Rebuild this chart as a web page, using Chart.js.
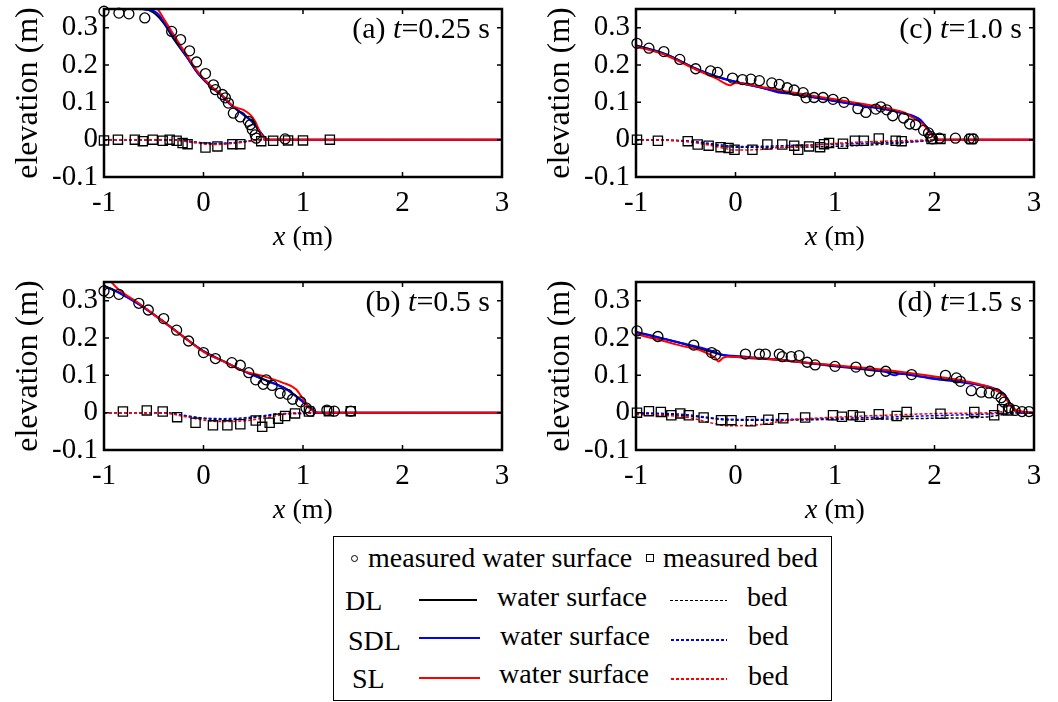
<!DOCTYPE html>
<html>
<head>
<meta charset="utf-8">
<script src="https://cdn.jsdelivr.net/npm/chart.js@4"></script>
<style>
  body { margin: 0; background: #fff; }
  #page { position: relative; width: 1058px; height: 702px; overflow: hidden; color: #000; }
  canvas { position: absolute; }
  .lg { position: absolute; font-family: 'Liberation Serif', serif; font-size: 28px; line-height: 28px; white-space: nowrap; }
  .ln { position: absolute; height: 2px; }
  .dl { position: absolute; height: 1.5px; }
  #legendBox { position: absolute; left: 333px; top: 536px; width: 499px; height: 165px; border: 1.5px solid #000; box-sizing: border-box; }
</style>
</head>
<body>
<div id="page">
  <canvas id="panelA" width="528" height="255" style="left:0;top:0"></canvas>
  <canvas id="panelC" width="528" height="255" style="left:532px;top:0"></canvas>
  <canvas id="panelB" width="528" height="255" style="left:0;top:273px"></canvas>
  <canvas id="panelD" width="528" height="255" style="left:532px;top:273px"></canvas>

  <div id="legendBox"></div>
  <div style="position:absolute;left:350.5px;top:554.5px;width:7px;height:7px;border:1.3px solid #000;border-radius:50%;box-sizing:border-box"></div>
  <div class="lg" style="left:368px;top:544px">measured water surface</div>
  <div style="position:absolute;left:646px;top:554px;width:8px;height:8px;border:1.3px solid #000;box-sizing:border-box"></div>
  <div class="lg" style="left:663px;top:544px">measured bed</div>

  <div class="lg" style="left:345px;top:587px">DL</div>
  <div class="ln" style="left:419px;top:599px;width:58px;background:#000"></div>
  <div class="lg" style="left:497px;top:583px">water surface</div>
  <div class="dl" style="left:670px;top:599.5px;width:57px;background:repeating-linear-gradient(to right,#000 0 3px,transparent 3px 5px)"></div>
  <div class="lg" style="left:747px;top:583px">bed</div>

  <div class="lg" style="left:348px;top:627px">SDL</div>
  <div class="ln" style="left:419px;top:637px;width:61px;background:#0000ff"></div>
  <div class="lg" style="left:500px;top:622px">water surface</div>
  <div class="dl" style="left:671px;top:639px;width:56px;background:repeating-linear-gradient(to right,#0000ff 0 3px,transparent 3px 5px)"></div>
  <div class="lg" style="left:748px;top:622px">bed</div>

  <div class="lg" style="left:352px;top:665px">SL</div>
  <div class="ln" style="left:419px;top:677px;width:61px;background:#ff0000"></div>
  <div class="lg" style="left:499px;top:660px">water surface</div>
  <div class="dl" style="left:671px;top:678px;width:56px;background:repeating-linear-gradient(to right,#ff0000 0 3px,transparent 3px 5px)"></div>
  <div class="lg" style="left:748px;top:662px">bed</div>
</div>

<script>
// ticks
const X_TICKS = [-1, 0, 1, 2, 3];
const Y_TICKS = [-0.1, 0, 0.1, 0.2, 0.3];

// (a) t = 0.25 s
const surfObsA = [[-1.0,0.344],[-0.85,0.339],[-0.75,0.337],[-0.59,0.326],[-0.32,0.290],[-0.23,0.268],[-0.14,0.238],[-0.07,0.208],[0.02,0.177],[0.10,0.147],[0.12,0.134],[0.19,0.121],[0.22,0.112],[0.25,0.098],[0.30,0.071],[0.37,0.061],[0.45,0.049],[0.47,0.040],[0.49,0.027],[0.52,0.013],[0.53,0.004],[0.82,0.002]];
const bedObsA = [[-1.0,-0.002],[-0.86,0],[-0.69,0],[-0.61,-0.004],[-0.51,0],[-0.41,-0.003],[-0.34,0],[-0.27,-0.003],[-0.21,-0.009],[-0.16,-0.012],[0.02,-0.021],[0.14,-0.018],[0.29,-0.012],[0.37,-0.012],[0.58,-0.004],[0.70,-0.003],[0.85,-0.002],[1.0,-0.002],[1.27,0]];
const surfDL_A = [[-1,0.353],[-0.6,0.35],[-0.5,0.34],[-0.4,0.312],[-0.3,0.27],[-0.16,0.218],[-0.06,0.179],[0.07,0.143],[0.19,0.117],[0.27,0.095],[0.4,0.068],[0.5,0.046],[0.565,0.022],[0.63,0.002],[0.66,0],[3,0]];
const surfSDL_A = [[-1,0.352],[-0.7,0.351],[-0.57,0.348],[-0.47,0.34],[-0.39,0.313],[-0.29,0.272],[-0.16,0.219],[-0.06,0.179],[0.07,0.143],[0.19,0.116],[0.27,0.094],[0.40,0.067],[0.50,0.045],[0.565,0.022],[0.63,0.002],[0.66,0],[3,0]];
const surfSL_A = [[-1,0.45],[-0.6,0.40],[-0.46,0.35],[-0.39,0.32],[-0.29,0.277],[-0.16,0.223],[-0.06,0.183],[0.07,0.145],[0.20,0.116],[0.30,0.089],[0.40,0.080],[0.47,0.067],[0.52,0.049],[0.565,0.022],[0.615,0.002],[0.65,0],[3,0]];
const bedDL_A = [[-1,0],[-0.3,0],[-0.1,-0.006],[0.1,-0.011],[0.3,-0.009],[0.5,-0.002],[0.6,0],[3,0]];
const bedSDL_A = [[-1,0],[-0.3,0],[-0.1,-0.006],[0.1,-0.010],[0.3,-0.008],[0.5,-0.002],[0.6,0],[3,0]];
const bedSL_A = [[-1,0],[-0.3,-0.001],[-0.1,-0.008],[0.1,-0.013],[0.3,-0.010],[0.5,-0.003],[0.6,0],[3,0]];

// (b) t = 0.5 s
const surfObsB = [[-1.0,0.326],[-0.95,0.321],[-0.85,0.317],[-0.65,0.293],[-0.555,0.275],[-0.40,0.252],[-0.27,0.221],[-0.15,0.192],[0.0,0.161],[0.12,0.145],[0.285,0.134],[0.37,0.127],[0.455,0.107],[0.525,0.088],[0.60,0.076],[0.63,0.088],[0.69,0.073],[0.77,0.052],[0.845,0.049],[0.895,0.036],[0.977,0.029],[1.03,0.013],[1.075,0.004],[1.24,0.007],[1.315,0.004],[1.48,0.004]];
const bedObsB = [[-0.81,0.003],[-0.57,0.006],[-0.41,0.003],[-0.265,-0.012],[-0.08,-0.027],[0.095,-0.034],[0.24,-0.034],[0.37,-0.031],[0.525,-0.021],[0.59,-0.038],[0.665,-0.027],[0.75,-0.016],[0.82,-0.009],[0.92,-0.002],[1.06,0.003],[1.26,0.004],[1.48,0.004]];
const surfDL_B = [[-1,0.340],[-0.85,0.322],[-0.65,0.291],[-0.39,0.242],[-0.19,0.201],[0.0,0.165],[0.2,0.138],[0.4,0.112],[0.6,0.090],[0.83,0.064],[0.99,0.032],[1.09,0.009],[1.14,0],[3,0]];
const surfSDL_B = [[-1,0.339],[-0.85,0.321],[-0.65,0.29],[-0.39,0.241],[-0.19,0.201],[0.0,0.165],[0.2,0.138],[0.4,0.112],[0.6,0.089],[0.83,0.063],[0.99,0.031],[1.09,0.009],[1.14,0],[3,0]];
const surfSL_B = [[-1,0.38],[-0.92,0.348],[-0.85,0.329],[-0.65,0.293],[-0.39,0.241],[-0.19,0.201],[0.0,0.163],[0.2,0.1375],[0.4,0.112],[0.6,0.098],[0.8,0.080],[0.93,0.063],[0.98,0.045],[1.06,0.013],[1.125,0.002],[1.19,0],[3,0]];
const bedDL_B = [[-1,0],[-0.4,0],[-0.2,-0.008],[0,-0.016],[0.2,-0.019],[0.4,-0.017],[0.6,-0.010],[0.8,-0.003],[1.0,-0.002],[1.1,0],[3,0]];
const bedSDL_B = [[-1,0],[-0.4,0],[-0.2,-0.007],[0,-0.014],[0.2,-0.016],[0.4,-0.014],[0.6,-0.008],[0.8,-0.002],[1.0,-0.002],[1.1,0],[3,0]];
const bedSL_B = [[-1,0],[-0.4,-0.001],[-0.2,-0.010],[0,-0.020],[0.2,-0.024],[0.4,-0.022],[0.6,-0.015],[0.8,-0.005],[0.95,0],[3,0]];

// (c) t = 1.0 s
const surfObsC = [[-0.99,0.258],[-0.87,0.245],[-0.72,0.236],[-0.56,0.215],[-0.40,0.190],[-0.25,0.184],[-0.18,0.180],[-0.03,0.165],[0.07,0.161],[0.155,0.162],[0.24,0.158],[0.365,0.152],[0.44,0.148],[0.52,0.139],[0.59,0.133],[0.68,0.126],[0.71,0.112],[0.79,0.113],[0.88,0.113],[0.98,0.108],[1.09,0.100],[1.23,0.083],[1.31,0.073],[1.41,0.082],[1.46,0.088],[1.52,0.080],[1.58,0.064],[1.69,0.058],[1.75,0.042],[1.81,0.040],[1.89,0.025],[1.94,0.018],[1.96,0.009],[1.98,0.002],[2.05,0.004],[2.21,0.004],[2.35,0.002],[2.39,0.002]];
const bedObsC = [[-0.99,0],[-0.78,-0.003],[-0.48,-0.004],[-0.38,-0.013],[-0.27,-0.016],[-0.15,-0.020],[-0.07,-0.022],[-0.01,-0.027],[0.17,-0.027],[0.32,-0.013],[0.47,-0.013],[0.59,-0.016],[0.63,-0.027],[0.74,-0.018],[0.85,-0.020],[0.89,-0.012],[0.94,-0.009],[1.08,-0.011],[1.20,-0.003],[1.29,-0.003],[1.44,0.003],[1.61,-0.003],[1.67,-0.004],[1.97,0.002],[2.06,0.002],[2.37,0.002]];
const surfDL_C = [[-1,0.253],[-0.7,0.229],[-0.4,0.191],[-0.2,0.170],[0,0.155],[0.25,0.140],[0.5,0.125],[0.8,0.113],[1.0,0.104],[1.3,0.090],[1.5,0.082],[1.69,0.070],[1.8,0.061],[1.86,0.052],[1.94,0.026],[1.99,0.008],[2.02,0],[3,0]];
const surfSDL_C = [[-1,0.252],[-0.7,0.228],[-0.4,0.19],[-0.2,0.17],[0,0.155],[0.25,0.14],[0.5,0.124],[0.55,0.126],[0.8,0.113],[1.0,0.103],[1.3,0.09],[1.5,0.082],[1.69,0.071],[1.8,0.062],[1.86,0.053],[1.94,0.027],[1.99,0.009],[2.02,0],[3,0]];
const surfSL_C = [[-1,0.25],[-0.7,0.226],[-0.4,0.188],[-0.2,0.165],[-0.05,0.146],[0.0,0.152],[0.25,0.142],[0.5,0.13],[1.0,0.108],[1.3,0.095],[1.53,0.084],[1.7,0.072],[1.76,0.062],[1.89,0.04],[1.97,0.013],[2.02,0.002],[2.06,0],[3,0]];
const bedDL_C = [[-1,0],[-0.5,-0.004],[0,-0.020],[0.5,-0.020],[1.0,-0.018],[1.5,-0.012],[1.9,-0.003],[2.0,0],[3,0]];
const bedSDL_C = [[-1,0],[-0.5,-0.003],[-0.2,-0.012],[0,-0.018],[0.2,-0.018],[0.6,-0.015],[1.0,-0.012],[1.5,-0.008],[1.9,-0.003],[2.0,0],[3,0]];
const bedSL_C = [[-1,0],[-0.5,-0.005],[-0.2,-0.018],[0,-0.028],[0.2,-0.027],[0.5,-0.020],[1.0,-0.010],[1.5,-0.004],[1.8,-0.002],[2.0,0],[3,0]];

// (d) t = 1.5 s
const surfObsD = [[-0.99,0.219],[-0.78,0.204],[-0.42,0.181],[-0.24,0.161],[-0.20,0.155],[0.10,0.157],[0.24,0.157],[0.30,0.157],[0.44,0.157],[0.47,0.150],[0.56,0.150],[0.64,0.153],[0.72,0.135],[0.80,0.128],[1.0,0.124],[1.21,0.122],[1.35,0.111],[1.51,0.111],[1.77,0.102],[2.11,0.100],[2.22,0.093],[2.26,0.084],[2.37,0.059],[2.47,0.055],[2.55,0.053],[2.62,0.051],[2.67,0.040],[2.70,0.028],[2.75,0.013],[2.81,0.006],[2.88,0.003],[2.95,0.003]];
const bedObsD = [[-0.99,0],[-0.87,0.004],[-0.75,0.002],[-0.645,-0.007],[-0.555,-0.002],[-0.47,-0.007],[-0.32,-0.013],[-0.145,-0.020],[-0.04,-0.020],[0.155,-0.023],[0.33,-0.019],[0.48,-0.015],[0.70,-0.013],[0.98,-0.007],[1.07,-0.011],[1.18,-0.007],[1.25,-0.011],[1.44,-0.004],[1.62,-0.009],[1.72,0.002],[2.06,-0.003],[2.40,0.002],[2.60,-0.007],[2.68,0.009],[2.74,0.006]];
const surfDL_D = [[-1,0.217],[-0.6,0.19],[-0.2,0.16],[-0.1,0.153],[0.5,0.14],[1.0,0.124],[1.5,0.11],[2.0,0.092],[2.3,0.082],[2.6,0.062],[2.7,0.048],[2.75,0.028],[2.8,0.008],[2.9,0],[3,0]];
const surfSDL_D = [[-1,0.215],[-0.6,0.19],[-0.2,0.162],[-0.15,0.155],[0,0.152],[0.5,0.14],[1.0,0.125],[1.5,0.11],[1.6,0.10],[1.65,0.104],[2.0,0.09],[2.3,0.08],[2.6,0.065],[2.7,0.05],[2.75,0.03],[2.8,0.008],[2.85,0.002],[2.9,0],[3,0]];
const surfSL_D = [[-1,0.21],[-0.6,0.183],[-0.2,0.146],[-0.17,0.137],[-0.13,0.146],[-0.08,0.150],[0.5,0.14],[1.0,0.127],[1.5,0.115],[2.0,0.097],[2.3,0.085],[2.6,0.063],[2.7,0.045],[2.75,0.025],[2.8,0.01],[2.9,0.002],[3,0]];
const bedDL_D = [[-1,0],[-0.5,-0.008],[0,-0.020],[0.5,-0.020],[1,-0.018],[1.5,-0.017],[2,-0.015],[2.5,-0.012],[2.7,-0.005],[2.85,0],[3,0]];
const bedSDL_D = [[-1,0],[-0.5,-0.005],[-0.2,-0.015],[0,-0.018],[0.5,-0.018],[1.0,-0.015],[1.5,-0.012],[2.0,-0.008],[2.5,-0.004],[2.8,0],[3,0]];
const bedSL_D = [[-1,-0.005],[-0.5,-0.012],[-0.2,-0.030],[-0.1,-0.035],[0.2,-0.033],[0.57,-0.019],[1.1,-0.011],[1.5,-0.007],[2.09,-0.002],[2.58,0],[2.75,0.004],[3,0]];

const FONT = "Liberation Serif";

// cadre, graduations intérieures, étiquette du panneau, titre x
const framePlugin = {
  id: "frame",
  afterDraw(chart, args, opts) {
    const { ctx, chartArea: a, scales: { x, y } } = chart;
    ctx.save();
    ctx.strokeStyle = "#000";
    ctx.lineWidth = 1.5;
    ctx.beginPath();
    X_TICKS.forEach(function(v) {
      const p = x.getPixelForValue(v);
      ctx.moveTo(p, a.bottom); ctx.lineTo(p, a.bottom - 5);
      ctx.moveTo(p, a.top); ctx.lineTo(p, a.top + 5);
    });
    Y_TICKS.forEach(function(v) {
      const p = y.getPixelForValue(v);
      ctx.moveTo(a.left, p); ctx.lineTo(a.left + 5, p);
      ctx.moveTo(a.right, p); ctx.lineTo(a.right - 5, p);
    });
    ctx.stroke();
    ctx.lineWidth = 2.5;
    ctx.strokeRect(a.left, a.top, a.right - a.left, a.bottom - a.top);

    ctx.fillStyle = "#000";
    ctx.textBaseline = "alphabetic";
    // étiquette du panneau : "(a) " + t italique + "=0.25 s"
    const parts = [["normal", opts.label[0]], ["italic", "t"], ["normal", opts.label[1]]];
    let w = 0;
    parts.forEach(function(p) { ctx.font = p[0] + " 30px '" + FONT + "', serif"; w += ctx.measureText(p[1]).width; });
    let cx = a.right - 12 - w;
    parts.forEach(function(p) { ctx.font = p[0] + " 30px '" + FONT + "', serif"; ctx.fillText(p[1], cx, a.top + 29); cx += ctx.measureText(p[1]).width; });

    // titre de l'axe x : x italique + " (m)"
    const tparts = [["italic", "x"], ["normal", " (m)"]];
    w = 0;
    tparts.forEach(function(p) { ctx.font = p[0] + " 28px '" + FONT + "', serif"; w += ctx.measureText(p[1]).width; });
    cx = (a.left + a.right) / 2 - w / 2;
    tparts.forEach(function(p) { ctx.font = p[0] + " 28px '" + FONT + "', serif"; ctx.fillText(p[1], cx, a.bottom + 68); cx += ctx.measureText(p[1]).width; });
    ctx.restore();
  }
};

function lineSet(data, color, dashed) {
  return {
    data: data,
    showLine: true,
    borderColor: color,
    borderWidth: dashed ? 1.5 : 2,
    borderDash: dashed ? [3, 2] : [],
    pointRadius: 0,
    fill: false,
    cubicInterpolationMode: "monotone"
  };
}

function markerSet(data, style, r) {
  return {
    data: data,
    showLine: false,
    pointStyle: style,
    pointRadius: r,
    pointBorderColor: "#000",
    pointBackgroundColor: "rgba(0,0,0,0)",
    pointBorderWidth: 1.3,
    clip: false
  };
}

function creerPanneau(id, label, surfObs, bedObs, surfDL, surfSDL, surfSL, bedDL, bedSDL, bedSL) {
  const canvas = document.getElementById(id);
  return new Chart(canvas.getContext("2d"), {
    type: "line",
    data: {
      datasets: [
        markerSet(surfObs, "circle", 5),
        markerSet(bedObs, "rect", 6.5),
        lineSet(surfSL, "#ff0000", false),
        lineSet(bedSL, "#ff0000", true),
        lineSet(surfSDL, "#0000ff", false),
        lineSet(bedSDL, "#0000ff", true),
        lineSet(surfDL, "#000000", false),
        lineSet(bedDL, "#000000", true)
      ]
    },
    options: {
      responsive: false,
      animation: false,
      devicePixelRatio: 1,
      events: [],
      layout: { padding: { left: 0, top: 9, right: 26, bottom: 0 } },
      plugins: { legend: { display: false }, tooltip: { enabled: false }, frame: { label: label } },
      scales: {
        x: {
          type: "linear", min: -1, max: 3,
          afterBuildTicks: function(s) { s.ticks = X_TICKS.map(function(v) { return { value: v }; }); },
          afterFit: function(s) { s.height = 78; s.paddingLeft = 0; s.paddingRight = 0; },
          grid: { display: false, drawTicks: false },
          border: { display: false },
          ticks: { color: "#000", padding: 9, maxRotation: 0, font: { family: FONT, size: 29 },
                   callback: function(v) { return String(v); } }
        },
        y: {
          type: "linear", min: -0.1, max: 0.35,
          afterBuildTicks: function(s) { s.ticks = Y_TICKS.map(function(v) { return { value: v }; }); },
          afterFit: function(s) { s.width = 104; s.paddingTop = 0; s.paddingBottom = 0; },
          grid: { display: false, drawTicks: false },
          border: { display: false },
          ticks: { color: "#000", padding: 6, font: { family: FONT, size: 29 },
                   callback: function(v) { return v === 0 ? "0" : String(v); } },
          title: { display: true, text: "elevation (m)", color: "#000", padding: { top: 9, bottom: 0 },
                   font: { family: FONT, size: 32 } }
        }
      }
    },
    plugins: [framePlugin]
  });
}

creerPanneau("panelA", ["(a) ", "=0.25 s"], surfObsA, bedObsA, surfDL_A, surfSDL_A, surfSL_A, bedDL_A, bedSDL_A, bedSL_A);
creerPanneau("panelB", ["(b) ", "=0.5 s"], surfObsB, bedObsB, surfDL_B, surfSDL_B, surfSL_B, bedDL_B, bedSDL_B, bedSL_B);
creerPanneau("panelC", ["(c) ", "=1.0 s"], surfObsC, bedObsC, surfDL_C, surfSDL_C, surfSL_C, bedDL_C, bedSDL_C, bedSL_C);
creerPanneau("panelD", ["(d) ", "=1.5 s"], surfObsD, bedObsD, surfDL_D, surfSDL_D, surfSL_D, bedDL_D, bedSDL_D, bedSL_D);
</script>
</body>
</html>
